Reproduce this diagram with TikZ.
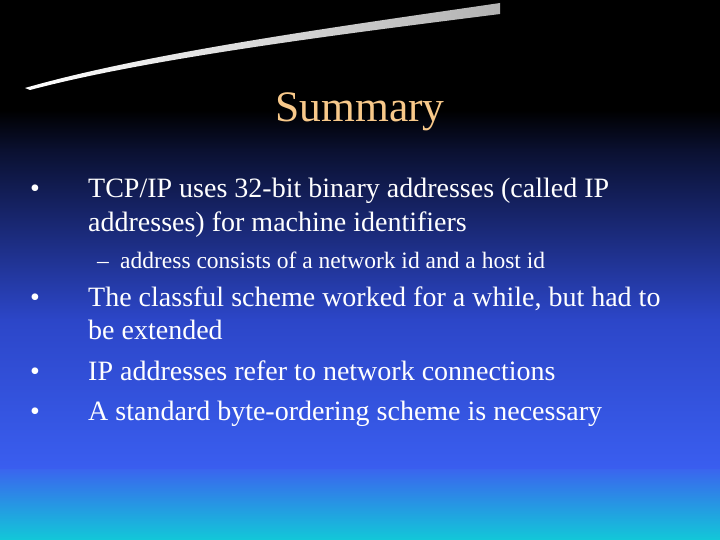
\documentclass[tikz,border=0pt]{standalone}
\usepackage{fontspec}
\setmainfont{Liberation Serif}
\definecolor{titlec}{HTML}{F8C98A}
\definecolor{bA}{HTML}{0A1030}
\definecolor{bB}{HTML}{2C46C8}
\definecolor{bC}{HTML}{3A5EF0}
\definecolor{bD}{HTML}{3A66EE}
\definecolor{bE}{HTML}{12C8D8}
\tikzset{body/.style={anchor=base west,text=white,font=\fontsize{28}{34}\selectfont,inner sep=0pt},
 sub/.style={anchor=base west,text=white,font=\fontsize{23.5}{28}\selectfont,inner sep=0pt}}
\begin{document}
\begin{tikzpicture}[x=1pt,y=-1pt]
\useasboundingbox (0,0) rectangle (720,540);
\fill[black] (0,0) rectangle (720,110);
\shade[top color=black,bottom color=bA] (0,110) rectangle (720,150);
\shade[top color=bA,bottom color=bB] (0,149.5) rectangle (720,320);
\shade[top color=bB,bottom color=bC] (0,319.5) rectangle (720,470);
\shade[top color=bD,bottom color=bE] (0,469.5) rectangle (720,540);
% swoosh
\shade[left color=white,right color=gray!60] (25,88) .. controls (150,52) and (350,25) .. (500,3) -- (500,14) .. controls (350,33) and (150,58) .. (30,90) -- cycle;
\node[text=titlec,font=\fontsize{43.5}{52}\selectfont,anchor=base,inner sep=0pt] (t) at (360,122) {Summary};
\node[body] (b1) at (30,198) {•};
\node[body] (l1) at (88,198) {TCP/IP uses 32-bit binary addresses (called IP};
\node[body] (l2) at (88,231) {addresses) for machine identifiers};
\node[sub] (s0) at (97,268) {–};
\node[sub] (s1) at (120,268) {address consists of a network id and a host id};
\node[body] (b2) at (30,306) {•};
\node[body] (l3) at (88,306) {The classful scheme worked for a while, but had to};
\node[body] (l4) at (88,339) {be extended};
\node[body] (b3) at (30,380) {•};
\node[body] (l5) at (88,380) {IP addresses refer to network connections};
\node[body] (b4) at (30,420) {•};
\node[body] (l6) at (88,420) {A standard byte-ordering scheme is necessary};
\end{tikzpicture}
\end{document}
